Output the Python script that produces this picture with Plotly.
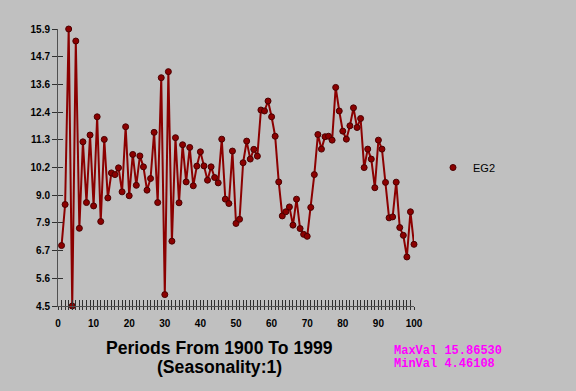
import plotly.graph_objects as go

periods = list(range(1, 101))
eg2 = [6.95, 8.64, 15.8653, 4.46108, 15.37, 7.66, 11.22, 8.72, 11.50, 8.58,
       12.25, 7.94, 11.32, 8.91, 9.94, 9.87, 10.15, 9.16, 11.84, 9.00,
       10.70, 9.43, 10.64, 10.19, 9.23, 9.71, 11.61, 8.72, 13.86, 4.93,
       14.11, 7.13, 11.39, 8.71, 11.10, 9.57, 10.99, 9.41, 10.22, 10.81,
       10.23, 9.64, 10.19, 9.75, 9.53, 11.33, 8.86, 8.68, 10.84, 7.86,
       8.03, 10.36, 11.25, 10.51, 10.91, 10.63, 12.53, 12.49, 12.90, 12.25,
       11.45, 9.57, 8.17, 8.34, 8.54, 7.79, 8.86, 7.65, 7.41, 7.33,
       8.52, 9.87, 11.52, 10.92, 11.43, 11.45, 11.29, 13.46, 12.49, 11.66,
       11.33, 11.88, 12.62, 11.81, 12.18, 10.16, 10.92, 10.51, 9.33, 11.29,
       10.92, 9.55, 8.09, 8.13, 9.56, 7.69, 7.37, 6.48, 8.34, 7.00]
series_name = "EG2"
max_val = 15.86530
min_val = 4.46108
y_tick_labels = ["4.5", "5.6", "6.7", "7.9", "9.0", "10.2", "11.3", "12.4", "13.6", "14.7", "15.9"]
x_tick_values = list(range(0, 101))
x_tick_labels = [str(v) if v % 10 == 0 else "" for v in x_tick_values]
title_line1 = "Periods From 1900 To 1999"
title_line2 = "(Seasonality:1)"

step = (max_val - min_val) / 10
y_tick_values = [min_val + i * step for i in range(11)]

BG = "#c0c0c0"
RED = "#8b0000"

fig = go.Figure()
# connecting line (legend shows only the marker, like the reference)
fig.add_trace(go.Scatter(
    x=periods, y=eg2, mode="lines", name=series_name, showlegend=False,
    line=dict(color=RED, width=2), cliponaxis=False,
))
fig.add_trace(go.Scatter(
    x=periods, y=eg2, mode="markers", name=series_name,
    marker=dict(symbol="circle", size=6, color=RED, line=dict(color="#4a0000", width=1)),
    cliponaxis=False,
))
# invisible trace to drive the overlaying axes (crossing ticks)
fig.add_trace(go.Scatter(x=periods, y=eg2, mode="lines", line=dict(width=0),
                         xaxis="x2", yaxis="y2", showlegend=False, hoverinfo="skip",
                         opacity=0))

axis_font = dict(family="Liberation Sans", size=10, color="#000000", weight="bold")

fig.update_layout(
    width=576, height=391,
    margin=dict(l=58, r=162, t=29, b=85),
    paper_bgcolor=BG, plot_bgcolor=BG,
    showlegend=True,
    legend=dict(x=(433 - 58) / 356.0, y=0.50, xanchor="left", yanchor="middle",
                bgcolor="rgba(0,0,0,0)", itemwidth=30,
                font=dict(family="Liberation Sans", size=11, color="#000000")),
    xaxis=dict(range=[0, 100], tickvals=x_tick_values, ticktext=x_tick_labels,
               ticks="inside", ticklen=6, tickwidth=1, tickcolor="#303030",
               showline=True, linecolor="#505050", linewidth=1,
               showgrid=False, zeroline=False, tickfont=axis_font,
               ticklabelstandoff=8),
    xaxis2=dict(range=[0, 100], overlaying="x", tickvals=x_tick_values,
                ticktext=[""] * len(x_tick_values), ticks="outside", ticklen=3,
                tickwidth=1, tickcolor="#303030", showgrid=False, zeroline=False,
                showline=False, side="bottom", anchor="y"),
    yaxis=dict(range=[min_val, max_val], tickvals=y_tick_values, ticktext=y_tick_labels,
               ticks="outside", ticklen=5, tickwidth=1, tickcolor="#303030",
               showline=True, linecolor="#505050", linewidth=1,
               showgrid=False, zeroline=False, tickfont=axis_font),
    yaxis2=dict(range=[min_val, max_val], overlaying="y", tickvals=y_tick_values,
                ticktext=[""] * len(y_tick_values), ticks="inside", ticklen=5,
                tickwidth=1, tickcolor="#303030", showgrid=False, zeroline=False,
                showline=False, side="left", anchor="x"),
)

def px_x(px):
    return (px - 58) / 356.0

def px_y(py):
    return (306 - py) / 277.0

title_font = dict(family="Liberation Sans", size=17.6, color="#000000", weight="bold")
fig.add_annotation(text=title_line1, x=px_x(219), y=px_y(348), xref="paper", yref="paper",
                   xanchor="center", yanchor="middle", showarrow=False, font=title_font)
fig.add_annotation(text=title_line2, x=px_x(219), y=px_y(367), xref="paper", yref="paper",
                   xanchor="center", yanchor="middle", showarrow=False, font=title_font)

mono = dict(family="Liberation Mono", size=12, color="#ff00ff", weight="bold")
fig.add_annotation(text=f"MaxVal {max_val:.5f}", x=px_x(392), y=px_y(351), xref="paper",
                   yref="paper", xanchor="left", yanchor="middle", showarrow=False, font=mono)
fig.add_annotation(text=f"MinVal {min_val:.5f}", x=px_x(392), y=px_y(364.5), xref="paper",
                   yref="paper", xanchor="left", yanchor="middle", showarrow=False, font=mono)

fig.write_html(
    "out.html",
    config={"displayModeBar": False},
    post_script="document.body.style.margin='0';document.body.style.background='#c0c0c0';",
)
